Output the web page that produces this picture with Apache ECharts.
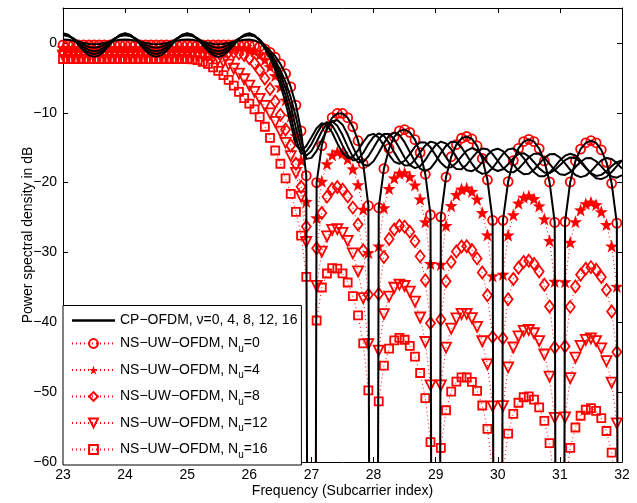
<!DOCTYPE html>
<html><head><meta charset="utf-8">
<script src="https://cdn.jsdelivr.net/npm/echarts@6/dist/echarts.min.js"></script>
<style>html,body{margin:0;padding:0;background:#fff}#c{width:637px;height:503px}</style>
</head><body><div id="c"></div>
<script>
// Frequency sample positions (subcarrier index)
const freq = [
23,23.0833,23.1667,23.25,23.3333,23.4167,23.5,23.5833,23.6667,23.75,23.8333,23.9167,
24,24.0833,24.1667,24.25,24.3333,24.4167,24.5,24.5833,24.6667,24.75,24.8333,24.9167,
25,25.0833,25.1667,25.25,25.3333,25.4167,25.5,25.5833,25.6667,25.75,25.8333,25.9167,
26,26.0833,26.1667,26.25,26.3333,26.4167,26.5,26.5833,26.6667,26.75,26.8333,26.9167,
27,27.0833,27.1667,27.25,27.3333,27.4167,27.5,27.5833,27.6667,27.75,27.8333,27.9167,
28,28.0833,28.1667,28.25,28.3333,28.4167,28.5,28.5833,28.6667,28.75,28.8333,28.9167,
29,29.0833,29.1667,29.25,29.3333,29.4167,29.5,29.5833,29.6667,29.75,29.8333,29.9167,
30,30.0833,30.1667,30.25,30.3333,30.4167,30.5,30.5833,30.6667,30.75,30.8333,30.9167,
31,31.0833,31.1667,31.25,31.3333,31.4167,31.5,31.5833,31.6667,31.75,31.8333,31.9167,
32];

// CP-OFDM, nu = 0, 4, 8, 12, 16 (dB)
const cpV0 = [
0.5,0.45,0.3,0.15,0,-0.15,-0.2,-0.15,0,0.15,0.3,0.45,
0.5,0.45,0.3,0.15,0,-0.15,-0.2,-0.15,0,0.15,0.3,0.45,
0.5,0.45,0.3,0.15,0,-0.15,-0.2,-0.15,0,0.15,0.3,0.45,
0.5,0.35,0.05,-0.45,-1.1,-1.9,-3,-4.4,-6.3,-8.9,-12.6,-19,
-300,-20,-14.7,-12.1,-10.7,-10.1,-10.1,-10.7,-12,-14,-17.3,-23.3,
-300,-23.6,-18,-15.1,-13.45,-12.6,-12.4,-12.8,-13.85,-15.7,-18.8,-24.6,
-300,-24.9,-19.2,-16.3,-14.55,-13.65,-13.4,-13.75,-14.75,-16.55,-19.6,-25.4,
-300,-25.4,-19.85,-16.85,-15.1,-14.12,-13.8,-14.13,-15.12,-16.9,-19.9,-25.7,
-300,-25.6,-19.9,-16.9,-15.2,-14.3,-14,-14.3,-15.3,-17.1,-20.1,-25.8,
-300];
const cpV4 = [
1.1,0.98,0.65,0.2,-0.25,-0.58,-0.7,-0.58,-0.25,0.2,0.65,0.98,
1.1,0.98,0.65,0.2,-0.25,-0.58,-0.7,-0.58,-0.25,0.2,0.65,0.98,
1.1,0.98,0.65,0.2,-0.25,-0.58,-0.7,-0.58,-0.25,0.2,0.65,0.98,
1.1,0.95,0.45,-0.35,-1.35,-2.5,-3.9,-5.6,-7.8,-10.6,-13.9,-16.6,
-16.46,-15.45,-13.91,-12.37,-11.26,-11.04,-11.7,-13.12,-14.88,-16.43,-17.44,-17.58,
-16.94,-15.72,-14.35,-13.27,-12.83,-13.19,-14.21,-15.62,-16.98,-18,-18.36,-17.95,
-17.01,-15.77,-14.74,-14.15,-14.22,-14.97,-16.08,-17.29,-18.31,-18.75,-18.58,-17.92,
-16.9,-15.9,-15.24,-15.12,-15.59,-16.48,-17.57,-18.51,-19.08,-19.08,-18.58,-17.74,
-16.83,-16.14,-15.87,-16.12,-16.85,-17.81,-18.74,-19.38,-19.5,-19.18,-18.48,-17.63,
-16.85];
const cpV8 = [
1.2,1.04,0.6,0,-0.6,-1.04,-1.2,-1.04,-0.6,0,0.6,1.04,
1.2,1.04,0.6,0,-0.6,-1.04,-1.2,-1.04,-0.6,0,0.6,1.04,
1.2,1.04,0.6,0,-0.6,-1.04,-1.2,-1.04,-0.6,0,0.6,1.04,
1.2,1.0,0.45,-0.5,-1.6,-2.9,-4.5,-6.5,-9,-12.2,-15,-16.14,
-15.49,-14.14,-12.64,-11.56,-11.21,-11.86,-13.19,-14.86,-16.32,-17.09,-17.06,-16.22,
-15,-13.77,-13.04,-13.03,-13.79,-15.07,-16.44,-17.51,-17.92,-17.64,-16.76,-15.59,
-14.62,-14.13,-14.39,-15.2,-16.35,-17.51,-18.23,-18.36,-17.95,-17.05,-16.06,-15.37,
-15.14,-15.5,-16.34,-17.38,-18.29,-18.79,-18.72,-18.16,-17.3,-16.46,-15.95,-15.92,
-16.41,-17.25,-18.18,-18.91,-19.21,-19,-18.37,-17.56,-16.82,-16.47,-16.61,-17.2,
-18];
const cpV12 = [
1.3,1.11,0.58,-0.15,-0.88,-1.41,-1.6,-1.41,-0.88,-0.15,0.58,1.11,
1.3,1.11,0.58,-0.15,-0.88,-1.41,-1.6,-1.41,-0.88,-0.15,0.58,1.11,
1.3,1.11,0.58,-0.15,-0.88,-1.41,-1.6,-1.41,-0.88,-0.15,0.58,1.11,
1.3,1.0,0.4,-0.7,-1.9,-3.4,-5.2,-7.5,-10.4,-13.7,-15.9,-15.54,
-14.48,-13.02,-11.8,-11.35,-11.79,-13.09,-14.67,-16.09,-16.82,-16.64,-15.75,-14.48,
-13.44,-12.96,-13.29,-14.31,-15.67,-16.89,-17.56,-17.5,-16.74,-15.66,-14.68,-14.13,
-14.34,-15.16,-16.37,-17.44,-18.06,-18.07,-17.44,-16.49,-15.63,-15.12,-15.21,-15.91,
-16.9,-17.87,-18.49,-18.53,-18.03,-17.2,-16.37,-15.86,-15.88,-16.43,-17.31,-18.2,
-18.79,-18.9,-18.51,-17.79,-17.02,-16.51,-16.48,-16.94,-17.68,-18.53,-19.13,-19.29,
-18.92];
const cpV16 = [
1.4,1.17,0.55,-0.3,-1.15,-1.77,-2,-1.77,-1.15,-0.3,0.55,1.17,
1.4,1.17,0.55,-0.3,-1.15,-1.77,-2,-1.77,-1.15,-0.3,0.55,1.17,
1.4,1.17,0.55,-0.3,-1.15,-1.77,-2,-1.77,-1.15,-0.3,0.55,1.17,
1.4,1.1,0.4,-0.8,-2.2,-3.9,-6,-8.6,-11.6,-14.6,-15.51,-14.76,
-13.5,-12.21,-11.5,-11.76,-12.83,-14.39,-15.73,-16.47,-16.33,-15.4,-14.22,-13.25,
-13.02,-13.55,-14.7,-16.02,-17.01,-17.31,-16.87,-15.93,-14.87,-14.22,-14.27,-14.95,
-16.1,-17.17,-17.84,-17.8,-17.15,-16.25,-15.42,-15.05,-15.35,-16.13,-17.13,-18.01,
-18.34,-18.08,-17.37,-16.51,-15.9,-15.79,-16.25,-17.08,-17.96,-18.56,-18.65,-18.23,
-17.5,-16.79,-16.4,-16.5,-17.09,-17.91,-18.66,-19.05,-18.89,-18.36,-17.64,-17.06,
-16.83];

// NS-UW-OFDM, Nu = 0, 4, 8, 12, 16 (dB)
const uwNu0 = [
-0.3,-0.3,-0.3,-0.3,-0.3,-0.3,-0.3,-0.3,-0.3,-0.3,-0.3,-0.3,
-0.3,-0.3,-0.3,-0.3,-0.3,-0.3,-0.3,-0.3,-0.3,-0.3,-0.3,-0.3,
-0.3,-0.3,-0.3,-0.3,-0.3,-0.3,-0.3,-0.3,-0.3,-0.3,-0.3,-0.3,
-0.35,-0.4,-0.55,-0.85,-1.35,-2.05,-3,-4.4,-6.3,-8.9,-12.6,-19,
-300,-20,-14.7,-12.1,-10.7,-10.1,-10.1,-10.7,-12,-14,-17.3,-23.3,
-300,-23.6,-18,-15.1,-13.45,-12.6,-12.4,-12.8,-13.85,-15.7,-18.8,-24.6,
-300,-24.9,-19.2,-16.3,-14.55,-13.65,-13.4,-13.75,-14.75,-16.55,-19.6,-25.4,
-300,-25.4,-19.85,-16.85,-15.1,-14.12,-13.8,-14.13,-15.12,-16.9,-19.9,-25.7,
-300,-25.6,-19.9,-16.9,-15.2,-14.3,-14,-14.3,-15.3,-17.1,-20.1,-25.8,
-300];
const uwNu4 = [
-0.7,-0.7,-0.7,-0.7,-0.7,-0.7,-0.7,-0.7,-0.7,-0.7,-0.7,-0.7,
-0.7,-0.7,-0.7,-0.7,-0.7,-0.7,-0.7,-0.7,-0.7,-0.7,-0.7,-0.7,
-0.7,-0.7,-0.7,-0.7,-0.7,-0.7,-0.7,-0.7,-0.7,-0.7,-0.7,-0.7,
-0.9,-1.2,-1.7,-2.4,-3.4,-4.7,-6.3,-8.2,-10.5,-13.3,-16.8,-22.7,
-300,-25.04,-19.82,-17.31,-16.05,-15.6,-15.8,-16.6,-18.05,-20.31,-23.82,-30.04,
-300,-29.09,-23.62,-20.86,-19.35,-18.65,-18.6,-19.15,-20.35,-22.36,-25.62,-31.59,
-300,-31.71,-26.15,-23.31,-21.72,-20.93,-20.8,-21.27,-22.38,-24.31,-27.49,-33.37,
-300,-33.14,-27.52,-24.61,-22.95,-22.1,-21.9,-22.3,-23.35,-25.21,-28.32,-34.14,
-300,-34.21,-28.55,-25.61,-23.92,-23.03,-22.8,-23.17,-24.18,-26.01,-29.09,-34.87,
-300];
const uwNu8 = [
-1.3,-1.3,-1.3,-1.3,-1.3,-1.3,-1.3,-1.3,-1.3,-1.3,-1.3,-1.3,
-1.3,-1.3,-1.3,-1.3,-1.3,-1.3,-1.3,-1.3,-1.3,-1.3,-1.3,-1.3,
-1.3,-1.3,-1.3,-1.3,-1.3,-1.3,-1.3,-1.3,-1.3,-1.35,-1.5,-1.75,
-2.2,-2.9,-3.9,-5.1,-6.6,-8.4,-10.3,-12.4,-14.7,-17.3,-20.6,-26.3,
-300,-29.41,-24.35,-22.01,-20.92,-20.63,-21,-21.97,-23.58,-26.01,-29.69,-36.07,
-300,-35.96,-30.65,-28.06,-26.72,-26.18,-26.3,-27.02,-28.38,-30.56,-33.99,-40.12,
-300,-39.59,-34.12,-31.36,-29.85,-29.15,-29.1,-29.65,-30.85,-32.86,-36.12,-42.09,
-300,-42.27,-36.69,-33.81,-32.18,-31.37,-31.2,-31.63,-32.72,-34.61,-37.75,-43.61,
-300,-43.42,-37.79,-34.86,-33.18,-32.32,-32.1,-32.48,-33.52,-35.36,-38.45,-44.26,
-300];
const uwNu12 = [
-1.8,-1.8,-1.8,-1.8,-1.8,-1.8,-1.8,-1.8,-1.8,-1.8,-1.8,-1.8,
-1.8,-1.8,-1.8,-1.8,-1.8,-1.8,-1.8,-1.8,-1.8,-1.8,-1.8,-1.8,
-1.8,-1.8,-1.8,-1.85,-1.95,-2.1,-2.35,-2.7,-3.1,-3.7,-4.4,-5.2,
-6.1,-7,-8,-9,-10.1,-11.3,-12.7,-14.3,-16.2,-18.6,-22,-28.5,
-300,-34.77,-29.89,-27.71,-26.78,-26.67,-27.2,-28.33,-30.12,-32.71,-36.55,-43.11,
-300,-44.04,-38.82,-36.31,-35.05,-34.6,-34.8,-35.6,-37.05,-39.31,-42.82,-49.04,
-300,-49.04,-43.62,-40.91,-39.45,-38.8,-38.8,-39.4,-40.65,-42.71,-46.02,-52.04,
-300,-52.01,-46.45,-43.61,-42.02,-41.23,-41.1,-41.57,-42.68,-44.61,-47.79,-53.67,
-300,-53.62,-47.99,-45.06,-43.38,-42.52,-42.3,-42.68,-43.72,-45.56,-48.65,-54.46,
-300];
const uwNu16 = [
-2.3,-2.3,-2.3,-2.3,-2.3,-2.3,-2.3,-2.3,-2.3,-2.3,-2.3,-2.3,
-2.3,-2.3,-2.3,-2.3,-2.3,-2.3,-2.3,-2.3,-2.3,-2.3,-2.3,-2.3,
-2.3,-2.35,-2.45,-2.7,-3,-3.5,-4,-4.6,-5.3,-6.1,-7,-7.9,
-8.7,-9.5,-10.6,-12,-13.6,-15.4,-17.3,-19.4,-21.6,-24.2,-27.6,-33.5,
-300,-39.74,-35.02,-33.01,-32.25,-32.3,-33,-34.3,-36.25,-39.01,-43.02,-49.74,
-300,-51.32,-46.19,-43.76,-42.58,-42.22,-42.5,-43.38,-44.92,-47.26,-50.85,-57.16,
-300,-57.97,-52.59,-49.91,-48.48,-47.87,-47.9,-48.53,-49.82,-51.91,-55.25,-61.31,
-300,-61.51,-55.95,-53.11,-51.52,-50.73,-50.6,-51.07,-52.18,-54.11,-57.29,-63.17,
-300,-63.62,-57.99,-55.06,-53.38,-52.52,-52.3,-52.68,-53.72,-55.56,-58.65,-64.46,
-300];

const xTicks = [23,24,25,26,27,28,29,30,31,32];
const yTicks = [-60,-50,-40,-30,-20,-10,0];

const cpName = 'CP\u2212OFDM, \u03bd=0, 4, 8, 12, 16';
const uwNames = ['NS\u2212UW\u2212OFDM, Nu=0','NS\u2212UW\u2212OFDM, Nu=4','NS\u2212UW\u2212OFDM, Nu=8','NS\u2212UW\u2212OFDM, Nu=12','NS\u2212UW\u2212OFDM, Nu=16'];

const FONT = '"Liberation Sans", Arial, Helvetica, sans-serif';
const RED = '#ff0000';
const pairs = ys => freq.map((x, i) => [x, ys[i]]);
const star = 'path://M0,-10L2.35,-3.24L9.51,-3.09L3.8,1.24L5.88,8.09L0,4L-5.88,8.09L-3.8,1.24L-9.51,-3.09L-2.35,-3.24Z';

function uwSeries(name, ys, symbol, size, filled, rotate) {
  return {
    name, type: 'line', data: pairs(ys), symbol, symbolSize: size, symbolRotate: rotate || 0,
    showAllSymbol: true, clip: true, z: 2,
    lineStyle: { color: RED, width: 1, type: [1, 3] },
    itemStyle: filled ? { color: RED, borderWidth: 0 } : { color: 'rgba(255,0,0,0)', borderColor: RED, borderWidth: 1.8 },
    emphasis: { disabled: true }
  };
}
function cpSeries(ys) {
  return { name: cpName, type: 'line', data: pairs(ys), symbol: 'none', clip: true, z: 3,
    lineStyle: { color: '#000', width: 2 }, itemStyle: { color: '#000' }, emphasis: { disabled: true } };
}

const chart = echarts.init(document.getElementById('c'), null, { renderer: 'canvas' });
const axisCommon = {
  axisLine: { show: true, onZero: false, lineStyle: { color: '#000', width: 1 } },
  axisTick: { show: true, inside: true, length: 5, lineStyle: { color: '#000' } },
  splitLine: { show: false }
};
chart.setOption({
  animation: false,
  backgroundColor: '#fff',
  textStyle: { fontFamily: FONT },
  grid: { left: 63, right: 15, top: 8, bottom: 38, show: false },
  xAxis: [
    Object.assign({ type: 'value', min: 23, max: 32, interval: 1, position: 'bottom',
      name: 'Frequency (Subcarrier index)', nameLocation: 'middle', nameGap: 22, nameMoveOverlap: false,
      nameTextStyle: { fontSize: 14, color: '#000', fontFamily: FONT },
      axisLabel: { fontSize: 14, color: '#000', margin: 6, fontFamily: FONT,
        formatter: v => xTicks.includes(v) ? String(v) : '' } }, axisCommon),
    Object.assign({ type: 'value', min: 23, max: 32, interval: 1, position: 'top',
      axisLabel: { show: false } }, axisCommon)
  ],
  yAxis: [
    Object.assign({ type: 'value', min: -60, max: 5, interval: 10, position: 'left',
      name: 'Power spectral density in dB', nameLocation: 'middle', nameGap: 28, nameMoveOverlap: false,
      nameTextStyle: { fontSize: 14, color: '#000', fontFamily: FONT },
      axisLabel: { fontSize: 14, color: '#000', margin: 6, fontFamily: FONT,
        formatter: v => yTicks.includes(v) ? (v < 0 ? '\u2212' + Math.abs(v) : String(v)) : '' } }, axisCommon),
    Object.assign({ type: 'value', min: -60, max: 5, interval: 10, position: 'right',
      axisLabel: { show: false } }, axisCommon)
  ],
  legend: {
    orient: 'vertical', left: 63, bottom: 38,
    backgroundColor: '#fff', borderColor: '#000', borderWidth: 1, borderRadius: 0,
    padding: [8, 4, 5, 8], itemGap: 9, itemWidth: 43, itemHeight: 11,
    data: [{ name: cpName, icon: 'path://M0,0L43,0L43,2.5L0,2.5Z' }].concat(uwNames),
    selectedMode: false,
    textStyle: { fontSize: 14, color: '#000', fontFamily: FONT,
      rich: { sub: { fontSize: 10, color: '#000', fontFamily: FONT, padding: [11, 0, 0, 0] } } },
    formatter: name => name.replace('Nu=', 'N{sub|u}=')
  },
  series: [
    uwSeries(uwNames[0], uwNu0, 'circle', 9, false),
    uwSeries(uwNames[1], uwNu4, star, 13, true),
    uwSeries(uwNames[2], uwNu8, 'diamond', [9, 12], false),
    uwSeries(uwNames[3], uwNu12, 'triangle', 10, false, 180),
    uwSeries(uwNames[4], uwNu16, 'rect', 8, false),
    cpSeries(cpV0), cpSeries(cpV4), cpSeries(cpV8), cpSeries(cpV12), cpSeries(cpV16)
  ]
});
</script></body></html>
